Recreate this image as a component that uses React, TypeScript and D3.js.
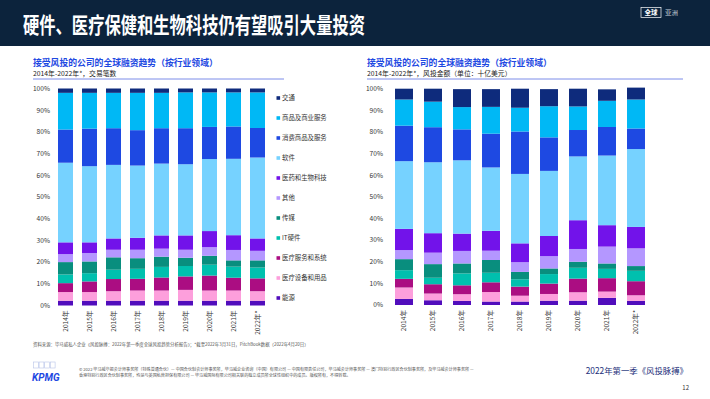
import React from 'react';
import * as d3 from 'd3';

// years on the x axis
const years = ['2014年', '2015年', '2016年', '2017年', '2018年', '2019年', '2020年', '2021年', '2022年*'];

// sector names, bottom of the stack first
const sectors = ['能源', '医疗设备和用品', '医疗服务和系统', 'IT硬件', '传媒', '其他', '医药和生物科技', '软件', '消费商品及服务', '商品及商业服务', '交通'];
const sectorColors = ['#510dbc', '#fd9fdc', '#ab0d82', '#00c0ae', '#098e7e', '#b497ff', '#7213ea', '#76d2ff', '#1e49e2', '#00b8f5', '#0e2b7c'];

// left chart: share of deal count (%)
const countEnergy = [2.2, 2.2, 2.2, 2.2, 2.2, 2.2, 2.2, 2.2, 2.2];
const countDevices = [4.0, 4.0, 4.4, 4.7, 4.7, 5.0, 4.7, 4.7, 4.4];
const countHealthServices = [4.1, 4.9, 5.6, 5.4, 6.0, 6.2, 6.9, 5.9, 5.9];
const countHardware = [4.0, 3.8, 4.3, 4.6, 4.9, 4.8, 5.0, 5.1, 5.0];
const countMedia = [5.7, 5.4, 5.7, 4.9, 4.7, 3.8, 4.1, 2.9, 3.3];
const countOther = [3.7, 3.9, 3.5, 3.9, 3.7, 3.7, 4.0, 4.8, 4.4];
const countPharma = [5.4, 4.9, 5.2, 5.5, 6.1, 6.6, 7.4, 6.8, 5.7];
const countSoftware = [36.7, 35.1, 33.9, 33.3, 33.1, 32.8, 33.2, 35.2, 37.3];
const countConsumer = [15.3, 17.3, 16.9, 16.3, 16.3, 16.6, 14.8, 14.9, 13.6];
const countBusiness = [16.9, 16.5, 16.3, 17.2, 16.3, 16.5, 15.9, 15.7, 16.4];
const countTransport = [2.0, 2.0, 2.0, 2.0, 2.0, 1.8, 1.8, 1.8, 1.8];

// right chart: share of deal value (%)
const valueEnergy = [2.8, 2.2, 1.9, 1.6, 1.6, 2.0, 2.0, 3.3, 1.9];
const valueDevices = [5.3, 3.1, 3.1, 4.4, 2.7, 3.1, 3.9, 2.9, 2.6];
const valueHealthServices = [4.0, 4.3, 4.1, 4.5, 4.2, 4.8, 6.3, 6.2, 6.5];
const valueHardware = [4.0, 3.0, 5.5, 4.4, 3.4, 4.4, 5.0, 4.3, 4.8];
const valueMedia = [5.1, 6.3, 4.6, 5.9, 3.4, 2.6, 2.8, 2.5, 2.2];
const valueOther = [4.2, 5.3, 5.8, 4.3, 4.5, 5.7, 5.9, 7.8, 8.2];
const valuePharma = [9.8, 9.0, 8.0, 9.2, 8.7, 9.3, 13.3, 9.9, 9.9];
const valueSoftware = [31.3, 32.8, 33.9, 29.3, 32.1, 30.1, 29.5, 32.2, 36.0];
const valueConsumer = [16.4, 16.2, 14.3, 15.6, 19.6, 15.5, 12.2, 13.2, 9.5];
const valueBusiness = [12.1, 11.8, 10.3, 12.4, 11.0, 14.4, 10.9, 12.1, 13.4];
const valueTransport = [5.0, 6.0, 8.3, 8.2, 8.8, 7.9, 8.2, 5.3, 5.5];

const yTicks = [0, 10, 20, 30, 40, 50, 60, 70, 80, 90, 100];

const countSeries = [countEnergy, countDevices, countHealthServices, countHardware, countMedia, countOther, countPharma, countSoftware, countConsumer, countBusiness, countTransport];
const valueSeries = [valueEnergy, valueDevices, valueHealthServices, valueHardware, valueMedia, valueOther, valuePharma, valueSoftware, valueConsumer, valueBusiness, valueTransport];

const FONT = '"Noto Sans CJK SC", "Noto Sans", sans-serif';
const BLUE = '#1e49e2';

function StackedChart({ series, xRange, yRange, labelX, bandPad }: { series: number[][]; xRange: [number, number]; yRange: [number, number]; labelX: number; bandPad: number }) {
  const rows = years.map((yr, i) => {
    const row: Record<string, number | string> = { year: yr };
    sectors.forEach((s, j) => { row[s] = series[j][i]; });
    return row;
  });
  const stacked = d3.stack<Record<string, number | string>>().keys(sectors)(rows as any);
  const x = d3.scaleBand().domain(years).range(xRange).paddingInner(bandPad).paddingOuter(bandPad / 2);
  const y = d3.scaleLinear().domain([0, 100]).range(yRange);

  return (
    <g>
      {yTicks.map(t => (
        <text key={t} x={labelX} y={y(t)} dy="0.35em" textAnchor="end" fontSize={6.6} fill="#333">{t}%</text>
      ))}
      {stacked.map((layer, j) => (
        <g key={sectors[j]} fill={sectorColors[j]}>
          {layer.map((d, i) => (
            <rect key={i} x={x(years[i])} y={y(d[1])} width={x.bandwidth()} height={y(d[0]) - y(d[1])} />
          ))}
        </g>
      ))}
      {years.map(yr => (
        <text key={yr} transform={`translate(${(x(yr) as number) + x.bandwidth() / 2 + 2.3},${yRange[0] + 5}) rotate(-90)`} textAnchor="end" fontSize={6.6} fill="#333">{yr}</text>
      ))}
    </g>
  );
}

export default function App() {
  const legendY = d3.scaleBand().domain([...sectors].reverse()).range([88, 308]);
  return (
    <svg width={710} height={399} style={{ position: 'absolute', left: 0, top: 0, fontFamily: FONT }}>
      <rect width={710} height={399} fill="#fff" />
      <rect width={710} height={46} fill="#0c233c" />
      <text x={23} y={33} fontSize={22} fontWeight={700} fill="#fff" textLength={342} lengthAdjust="spacingAndGlyphs">硬件、医疗保健和生物科技仍有望吸引大量投资</text>
      <rect x={641} y={7.5} width={20} height={10} fill="none" stroke="#fff" strokeWidth={0.7} />
      <text x={651} y={15.3} fontSize={6.5} fontWeight={700} fill="#fff" textAnchor="middle">全球</text>
      <text x={665} y={15.3} fontSize={6.5} fill="#c8cfdb">亚洲</text>

      <text x={33} y={66} fontSize={8.8} fontWeight={700} fill={BLUE}>接受风投的公司的全球融资趋势（按行业领域）</text>
      <text x={33} y={75.5} fontSize={6.8} fill="#222">2014年-2022年*，交易笔数</text>
      <line x1={33} x2={284} y1={79} y2={79} stroke="#5b6fe3" strokeWidth={0.8} />

      <text x={367} y={66} fontSize={8.8} fontWeight={700} fill={BLUE}>接受风投的公司的全球融资趋势（按行业领域）</text>
      <text x={367} y={75.5} fontSize={6.8} fill="#222">2014年-2022年*，风投金额（单位：十亿美元）</text>
      <line x1={367} x2={683} y1={79} y2={79} stroke="#5b6fe3" strokeWidth={0.8} />

      <StackedChart series={countSeries} xRange={[53.5, 269.5]} yRange={[305.5, 88.5]} labelX={50} bandPad={0.375} />
      <StackedChart series={valueSeries} xRange={[389.5, 650.5]} yRange={[305, 88.7]} labelX={383} bandPad={0.38} />

      {[...sectors].reverse().map(s => {
        const cy = (legendY(s) as number) + legendY.bandwidth() / 2;
        return (
          <g key={s}>
            <rect x={276.5} y={cy - 1.8} width={3.6} height={3.6} fill={sectorColors[sectors.indexOf(s)]} />
            <text x={282} y={cy} dy="0.35em" fontSize={6.4} fill="#333">{s}</text>
          </g>
        );
      })}

      <text x={33} y={346} fontSize={4.4} fill="#555">资料来源：毕马威私人企业《风投脉搏：2022年第一季度全球风投趋势分析报告》；*截至2022年3月31日，PitchBook数据（2022年4月20日）</text>

      {[0, 1, 2, 3].map(i => (
        <rect key={i} x={33.5 + i * 5.6} y={362} width={4.8} height={6} fill="none" stroke="#b7c3e8" strokeWidth={0.6} />
      ))}
      <text x={32} y={381} fontSize={10} fontWeight={700} fontStyle="italic" fill="#1e49e2" fontFamily="Roboto, sans-serif">KPMG</text>
      <text x={79} y={371} fontSize={4.1} fill="#555">© 2022 毕马威华振会计师事务所（特殊普通合伙）— 中国合伙制会计师事务所，毕马威企业咨询（中国）有限公司 — 中国有限责任公司，毕马威会计师事务所 — 澳门特别行政区合伙制事务所，及毕马威会计师事务所 —</text>
      <text x={79} y={377} fontSize={4.1} fill="#555">香港特别行政区合伙制事务所，均是与英国私营担保有限公司 — 毕马威国际有限公司相关联的独立成员所全球性组织中的成员。版权所有，不得转载。</text>

      <text x={688} y={374} fontSize={8.4} fill="#1c2f7a" textAnchor="end">2022年第一季《风投脉搏》</text>
      <text x={689} y={390} fontSize={6} fill="#333" textAnchor="end">12</text>
    </svg>
  );
}
